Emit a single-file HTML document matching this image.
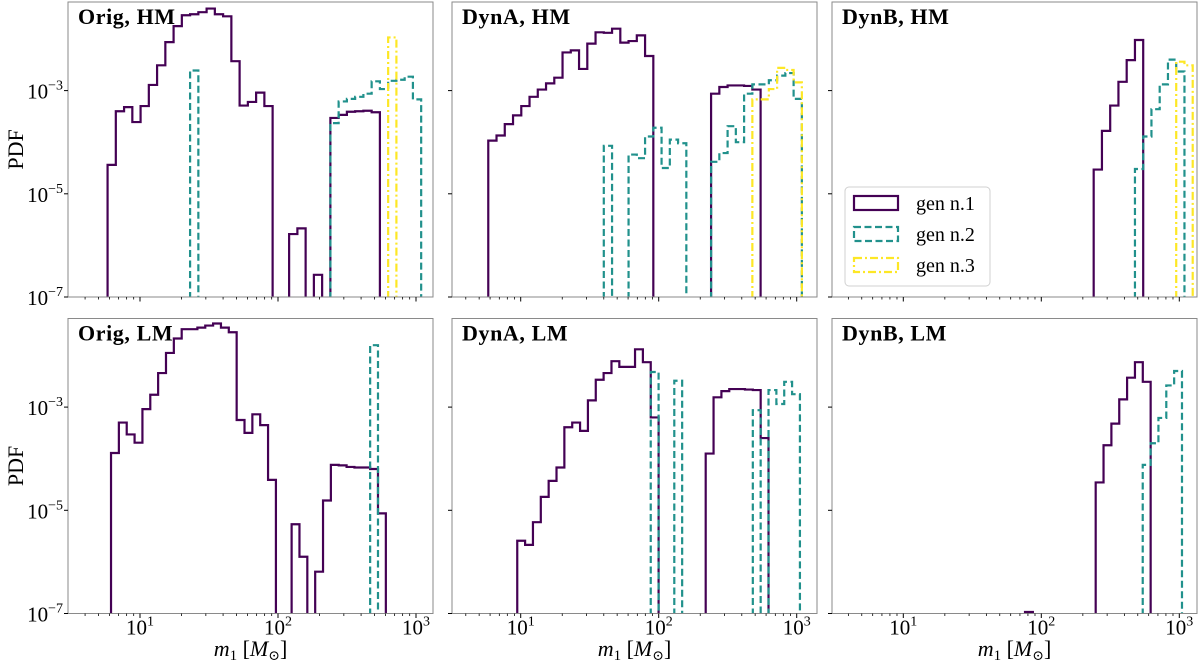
<!DOCTYPE html>
<html><head><meta charset="utf-8">
<style>
html,body{margin:0;padding:0;background:#fff;}
svg{display:block;font-family:"Liberation Serif","DejaVu Serif",serif;}
</style></head>
<body>
<svg id="fig" width="1200" height="665" viewBox="0 0 1200 665" xmlns="http://www.w3.org/2000/svg"></svg>
<script>
// ---- data: log10(PDF) per log-spaced bin of m1 ----
const row1BinStart = 0.765;   // log10 m1 of first bin edge (top row)
const row1BinWidth = 0.0598;  // dex
const row2BinWidth = 0.0569;  // dex

const origHM_gen1 = [-4.44,-3.40,-3.32,-3.61,-3.30,-2.89,-2.51,-2.06,-1.75,-1.54,-1.52,-1.48,-1.41,-1.52,-1.56,-2.43,-3.29,-3.22,-3.04,-3.30,null,null,-5.78,-5.67,null,-6.57,null,-3.53,-3.47,-3.41,-3.40,-3.39,-3.42];
const origHM_gen2 = [null,null,null,null,null,null,null,null,null,null,-2.61,null,null,null,null,null,null,null,null,null,null,null,null,null,null,null,null,-3.63,-3.21,-3.16,-3.12,-3.06,-2.82,-2.97,-2.81,-2.79,-2.73,-3.17];
const origHM_gen3 = [null,null,null,null,null,null,null,null,null,null,null,null,null,null,null,null,null,null,null,null,null,null,null,null,null,null,null,null,null,null,null,null,null,null,-1.97];

const dynAHM_gen1 = [-3.97,-3.87,-3.65,-3.48,-3.30,-3.12,-2.98,-2.86,-2.75,-2.26,-2.22,-2.58,-2.09,-1.87,-1.88,-1.80,-2.07,-2.04,-1.93,-2.33,null,null,null,null,null,null,null,-3.06,-2.93,-2.90,-2.90,-2.91,-2.98];
const dynAHM_gen2 = [null,null,null,null,null,null,null,null,null,null,null,null,null,null,-4.07,null,null,-4.24,-4.31,-3.89,-3.72,-4.50,-3.95,-4.02,null,null,null,-4.38,-4.21,-3.69,-4.00,-3.06,-2.88,-2.88,-2.80,-2.71,-2.66,-3.16];
const dynAHM_gen3 = [null,null,null,null,null,null,null,null,null,null,null,null,null,null,null,null,null,null,null,null,null,null,null,null,null,null,null,null,null,null,null,null,-3.17,-3.17,-2.97,-2.56,-2.60,-2.84];

const dynBHM_gen1 = [null,null,null,null,null,null,null,null,null,null,null,null,null,null,null,null,null,null,null,null,null,null,null,null,null,null,null,-4.53,-3.78,-3.29,-2.83,-2.41,-2.02];
const dynBHM_gen2 = [null,null,null,null,null,null,null,null,null,null,null,null,null,null,null,null,null,null,null,null,null,null,null,null,null,null,null,null,null,null,null,null,-4.52,-3.89,-3.36,-2.88,-2.40,-2.63];
const dynBHM_gen3 = [null,null,null,null,null,null,null,null,null,null,null,null,null,null,null,null,null,null,null,null,null,null,null,null,null,null,null,null,null,null,null,null,null,null,null,null,null,-2.44,-2.51];

const origLM_start = 0.790;
const origLM_gen1 = [-3.89,-3.30,-3.53,-3.69,-3.04,-2.76,-2.34,-1.95,-1.67,-1.49,-1.49,-1.46,-1.42,-1.38,-1.46,-1.55,-3.25,-3.50,-3.14,-3.35,-4.41,null,null,-5.27,-5.90,null,-6.19,-4.81,-4.12,-4.13,-4.16,-4.17,-4.17,-4.20,-5.06];
const origLM_gen2 = [null,null,null,null,null,null,null,null,null,null,null,null,null,null,null,null,null,null,null,null,null,null,null,null,null,null,null,null,null,null,null,null,null,-1.80];

const dynALM_start = 0.975;
const dynALM_gen1 = [-5.59,-5.67,-5.23,-4.74,-4.43,-4.17,-3.39,-3.30,-3.46,-2.87,-2.47,-2.34,-2.11,-2.22,-2.22,-1.88,-2.13,-3.20,null,null,null,null,null,null,-3.90,-2.81,-2.69,-2.65,-2.65,-2.66,-2.67,-3.60];
const dynALM_gen2 = [null,null,null,null,null,null,null,null,null,null,null,null,null,null,null,null,null,-2.32,null,null,-2.49,null,null,null,null,null,null,null,null,null,-3.06,null,-2.67,-2.94,-2.51,-2.75];

const dynBLM_start1 = 1.882;
const dynBLM_gen1 = [-6.97,null,null,null,null,null,null,null,null,-4.46,-3.74,-3.32,-2.85,-2.43,-2.13,-2.51];
const dynBLM_start2 = 2.735;
const dynBLM_gen2 = [-4.12,-3.70,-3.21,-2.58,-2.30];

const panelTitles = ["Orig","DynA","DynB"];
const rowTitles = ["HM","LM"];
const yTickExps = [-7,-5,-3];
const xTickExps = [1,2,3];
const legendLabels = ["gen n.1","gen n.2","gen n.3"];

// ---- layout ----
const NS = "http://www.w3.org/2000/svg";
const svg = document.getElementById("fig");
const COLORS = ["#440154","#21918c","#fde725"];
const DASH = [null,"7,3.5","8,3,2,3"];
const DEC_X = 138, DEC_Y = 51.6;
const PW = 365, PH = 295;
const lefts = [68,452,832];
const tick10 = [140,520.7,903.3];
const bottoms = [297,613.5];

function mk(tag, attrs, parent){
  const e = document.createElementNS(NS, tag);
  for (const k in attrs) e.setAttribute(k, attrs[k]);
  (parent||svg).appendChild(e);
  return e;
}

const panels = [
  {c:0,r:0,series:[[origHM_gen1,row1BinStart,row1BinWidth],[origHM_gen2,row1BinStart,row1BinWidth],[origHM_gen3,row1BinStart,row1BinWidth]]},
  {c:1,r:0,series:[[dynAHM_gen1,row1BinStart,row1BinWidth],[dynAHM_gen2,row1BinStart,row1BinWidth],[dynAHM_gen3,row1BinStart,row1BinWidth]]},
  {c:2,r:0,series:[[dynBHM_gen1,row1BinStart,row1BinWidth],[dynBHM_gen2,row1BinStart,row1BinWidth],[dynBHM_gen3,row1BinStart,row1BinWidth]]},
  {c:0,r:1,series:[[origLM_gen1,origLM_start,row2BinWidth],[origLM_gen2,origLM_start,row2BinWidth]]},
  {c:1,r:1,series:[[dynALM_gen1,dynALM_start,row2BinWidth],[dynALM_gen2,dynALM_start,row2BinWidth]]},
  {c:2,r:1,series:[[dynBLM_gen1,dynBLM_start1,row2BinWidth],[dynBLM_gen2,dynBLM_start2,row2BinWidth]]}
];

const defs = mk("defs",{});
panels.forEach((p,pi)=>{
  const L = lefts[p.c], B = bottoms[p.r], T = B - PH;
  const xmin = 1 - (tick10[p.c]-L)/DEC_X;
  const xs = lg => L + (lg - xmin)*DEC_X;
  const ys = lg => B - (lg + 7)*DEC_Y;

  const cp = mk("clipPath",{id:"clip"+pi},defs);
  mk("rect",{x:L,y:T,width:PW,height:PH},cp);

  const g = mk("g",{"clip-path":"url(#clip"+pi+")"});
  
  

  p.series.forEach((s,si)=>{
    const vals = s[0], st = s[1], w = s[2];
    let d = "", open = false;
    for (let k=0;k<vals.length;k++){
      const v = vals[k];
      const x0 = xs(st+k*w), x1 = xs(st+(k+1)*w);
      if (v===null){
        if (open){ d += " L"+x0.toFixed(2)+","+(B+2); open=false; }
        continue;
      }
      const y = ys(v);
      if (!open){ d += " M"+x0.toFixed(2)+","+(B+2); open=true; }
      d += " L"+x0.toFixed(2)+","+y.toFixed(2)+" L"+x1.toFixed(2)+","+y.toFixed(2);
      if (k===vals.length-1){ d += " L"+x1.toFixed(2)+","+(B+2); open=false; }
    }
    const path = mk("path",{d:d,fill:"none",stroke:COLORS[si],"stroke-width":2.2,"stroke-linejoin":"miter"},g);
    if (DASH[si]) path.setAttribute("stroke-dasharray",DASH[si]);
    
    
  });

  const frame = mk("rect",{x:L,y:T,width:PW,height:PH,fill:"none",stroke:"#8a8a8a","stroke-width":1});
  
  

  const xmax = xmin + PW/DEC_X;
  for (let e=0;e<=3;e++){
    for (let m=1;m<=9;m++){
      const lg = e + Math.log10(m);
      if (lg < xmin || lg > xmax) continue;
      const x = xs(lg), len = m===1?4.5:2.5;
      const t = mk("line",{x1:x,x2:x,y1:B,y2:B+len,stroke:"#000","stroke-width":m===1?1:0.8});
      
      
    }
  }
  yTickExps.forEach(ex=>{
    const y = ys(ex);
    const t = mk("line",{x1:L-4,x2:L,y1:y,y2:y,stroke:"#000","stroke-width":1});
    
    
    if (p.c===0){
      const tx = mk("text",{x:L-5,y:y+8,"text-anchor":"end","font-size":21});
      
      
      tx.innerHTML = '10<tspan dy="-9" font-size="14">−'+(-ex)+'</tspan>';
    }
  });
  if (p.r===1){
    xTickExps.forEach(ex=>{
      const x = xs(ex);
      const tx = mk("text",{x:x,y:B+21,"text-anchor":"middle","font-size":21});
      
      
      tx.innerHTML = '10<tspan dy="-9" font-size="14">'+ex+'</tspan>';
    });
    const xl = mk("text",{x:L+PW/2,y:656,"text-anchor":"middle","font-size":22});
    
    
    xl.innerHTML = '<tspan font-style="italic">m</tspan><tspan dy="4" font-size="15">1</tspan><tspan dy="-4"> [</tspan><tspan font-style="italic">M</tspan><tspan dy="4" font-size="14">⊙</tspan><tspan dy="-4">]</tspan>';
  }
  if (p.c===0){
    const cy = T + PH/2;
    const yl = mk("text",{x:0,y:0,"text-anchor":"middle","font-size":22,transform:"translate(23,"+cy+") rotate(-90)"});
    
    
    yl.textContent = "PDF";
  }
  const title = mk("text",{x:L+10,y:T+22,"font-size":22,"font-weight":"bold","letter-spacing":"0.6"});
  
  
  title.textContent = panelTitles[p.c]+", "+rowTitles[p.r];
});

const lg = mk("g",{});


mk("rect",{x:845,y:187,width:145,height:99,rx:4,fill:"#fff","fill-opacity":0.85,stroke:"#d0d0d0","stroke-width":1},lg);
legendLabels.forEach((lab,i)=>{
  const y0 = 196 + i*31;
  const r = mk("rect",{x:854,y:y0,width:44,height:14,fill:"none",stroke:COLORS[i],"stroke-width":2.2},lg);
  if (DASH[i]) r.setAttribute("stroke-dasharray",DASH[i]);
  
  
  const t = mk("text",{x:916,y:y0+14,"font-size":20},lg);
  
  
  t.textContent = lab;
});
</script>
</body></html>
